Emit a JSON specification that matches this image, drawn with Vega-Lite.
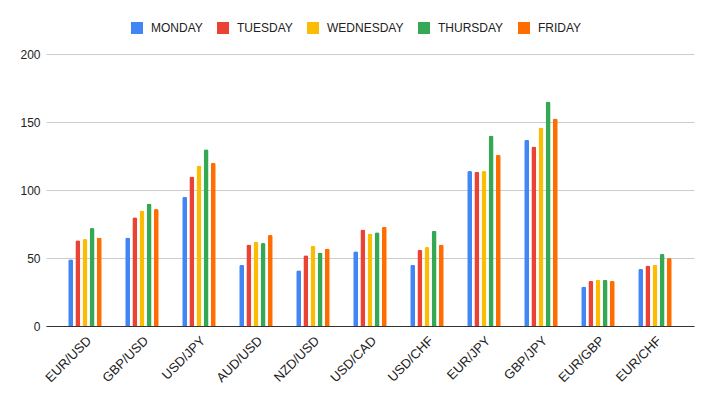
{
  "$schema": "https://vega.github.io/schema/vega-lite/v6.json",
  "width": 648,
  "height": 272,
  "autosize": {"type": "none"},
  "padding": {"left": 46, "top": 54, "right": 20, "bottom": 70},
  "background": "white",
  "config": {"view": {"stroke": null}, "font": "Liberation Sans"},
  "data": {"values": [
    {"pair": "EUR/USD", "day": "MONDAY", "value": 49},
    {"pair": "EUR/USD", "day": "TUESDAY", "value": 63},
    {"pair": "EUR/USD", "day": "WEDNESDAY", "value": 64},
    {"pair": "EUR/USD", "day": "THURSDAY", "value": 72},
    {"pair": "EUR/USD", "day": "FRIDAY", "value": 65},
    {"pair": "GBP/USD", "day": "MONDAY", "value": 65},
    {"pair": "GBP/USD", "day": "TUESDAY", "value": 80},
    {"pair": "GBP/USD", "day": "WEDNESDAY", "value": 85},
    {"pair": "GBP/USD", "day": "THURSDAY", "value": 90},
    {"pair": "GBP/USD", "day": "FRIDAY", "value": 86},
    {"pair": "USD/JPY", "day": "MONDAY", "value": 95},
    {"pair": "USD/JPY", "day": "TUESDAY", "value": 110},
    {"pair": "USD/JPY", "day": "WEDNESDAY", "value": 118},
    {"pair": "USD/JPY", "day": "THURSDAY", "value": 130},
    {"pair": "USD/JPY", "day": "FRIDAY", "value": 120},
    {"pair": "AUD/USD", "day": "MONDAY", "value": 45},
    {"pair": "AUD/USD", "day": "TUESDAY", "value": 60},
    {"pair": "AUD/USD", "day": "WEDNESDAY", "value": 62},
    {"pair": "AUD/USD", "day": "THURSDAY", "value": 61},
    {"pair": "AUD/USD", "day": "FRIDAY", "value": 67},
    {"pair": "NZD/USD", "day": "MONDAY", "value": 41},
    {"pair": "NZD/USD", "day": "TUESDAY", "value": 52},
    {"pair": "NZD/USD", "day": "WEDNESDAY", "value": 59},
    {"pair": "NZD/USD", "day": "THURSDAY", "value": 54},
    {"pair": "NZD/USD", "day": "FRIDAY", "value": 57},
    {"pair": "USD/CAD", "day": "MONDAY", "value": 55},
    {"pair": "USD/CAD", "day": "TUESDAY", "value": 71},
    {"pair": "USD/CAD", "day": "WEDNESDAY", "value": 68},
    {"pair": "USD/CAD", "day": "THURSDAY", "value": 69},
    {"pair": "USD/CAD", "day": "FRIDAY", "value": 73},
    {"pair": "USD/CHF", "day": "MONDAY", "value": 45},
    {"pair": "USD/CHF", "day": "TUESDAY", "value": 56},
    {"pair": "USD/CHF", "day": "WEDNESDAY", "value": 58},
    {"pair": "USD/CHF", "day": "THURSDAY", "value": 70},
    {"pair": "USD/CHF", "day": "FRIDAY", "value": 60},
    {"pair": "EUR/JPY", "day": "MONDAY", "value": 114},
    {"pair": "EUR/JPY", "day": "TUESDAY", "value": 113.5},
    {"pair": "EUR/JPY", "day": "WEDNESDAY", "value": 114},
    {"pair": "EUR/JPY", "day": "THURSDAY", "value": 140},
    {"pair": "EUR/JPY", "day": "FRIDAY", "value": 126},
    {"pair": "GBP/JPY", "day": "MONDAY", "value": 137},
    {"pair": "GBP/JPY", "day": "TUESDAY", "value": 132},
    {"pair": "GBP/JPY", "day": "WEDNESDAY", "value": 146},
    {"pair": "GBP/JPY", "day": "THURSDAY", "value": 165},
    {"pair": "GBP/JPY", "day": "FRIDAY", "value": 152.5},
    {"pair": "EUR/GBP", "day": "MONDAY", "value": 29},
    {"pair": "EUR/GBP", "day": "TUESDAY", "value": 33.3},
    {"pair": "EUR/GBP", "day": "WEDNESDAY", "value": 34},
    {"pair": "EUR/GBP", "day": "THURSDAY", "value": 34},
    {"pair": "EUR/GBP", "day": "FRIDAY", "value": 33.3},
    {"pair": "EUR/CHF", "day": "MONDAY", "value": 42},
    {"pair": "EUR/CHF", "day": "TUESDAY", "value": 44.5},
    {"pair": "EUR/CHF", "day": "WEDNESDAY", "value": 45},
    {"pair": "EUR/CHF", "day": "THURSDAY", "value": 53},
    {"pair": "EUR/CHF", "day": "FRIDAY", "value": 50}
  ]},
  "mark": {"type": "bar", "cornerRadiusTopLeft": 2, "cornerRadiusTopRight": 2},
  "encoding": {
    "x": {
      "field": "pair", "type": "nominal", "sort": null, "title": null,
      "scale": {"paddingInner": 0.386, "paddingOuter": 0.377},
      "axis": {"labelAngle": -45, "labelFontSize": 13, "labelColor": "#222222", "ticks": false, "domainColor": "#333333", "domainWidth": 1, "labelPadding": 8, "grid": false}
    },
    "xOffset": {
      "field": "day", "type": "nominal", "sort": ["MONDAY", "TUESDAY", "WEDNESDAY", "THURSDAY", "FRIDAY"],
      "scale": {"paddingInner": 0.3, "paddingOuter": 0.1}
    },
    "y": {
      "field": "value", "type": "quantitative", "title": null,
      "scale": {"domain": [0, 200], "nice": false},
      "axis": {"values": [0, 50, 100, 150, 200], "domain": false, "ticks": false, "labelFontSize": 12, "labelColor": "#222222", "labelPadding": 6, "gridColor": "#cccccc"}
    },
    "color": {
      "field": "day", "type": "nominal", "title": null,
      "sort": ["MONDAY", "TUESDAY", "WEDNESDAY", "THURSDAY", "FRIDAY"],
      "scale": {"domain": ["MONDAY", "TUESDAY", "WEDNESDAY", "THURSDAY", "FRIDAY"], "range": ["#4285F4", "#EA4335", "#FBBC04", "#34A853", "#FF6D01"]},
      "legend": {"orient": "none", "direction": "horizontal", "legendX": 85, "legendY": -32, "symbolType": "square", "symbolSize": 144, "symbolStrokeWidth": 0, "labelFontSize": 12, "labelColor": "#222222", "labelOffset": 8, "columnPadding": 14}
    }
  }
}
